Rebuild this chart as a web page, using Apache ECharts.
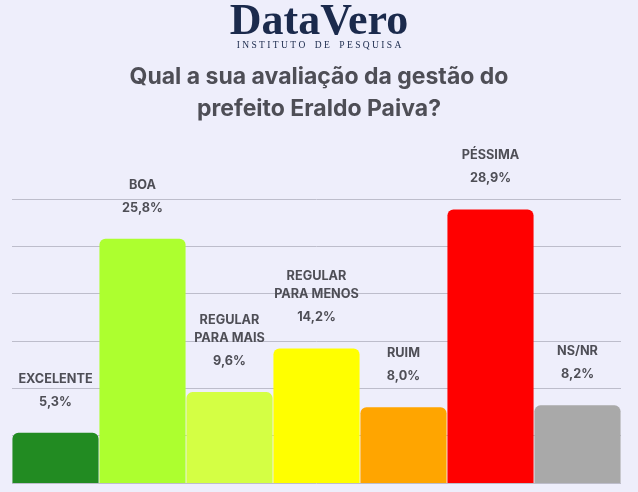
<!DOCTYPE html>
<html><head><meta charset="utf-8">
<script src="https://cdn.jsdelivr.net/npm/echarts@6/dist/echarts.min.js"></script>
<style>html,body{margin:0;padding:0;background:#EEEEFB;}#c{width:638px;height:492px;}</style>
</head><body><div id="c"></div>
<script>
const categories = ['EXCELENTE', 'BOA', 'REGULAR\nPARA MAIS', 'REGULAR\nPARA MENOS', 'RUIM', 'PÉSSIMA', 'NS/NR'];
const values = [5.3, 25.8, 9.6, 14.2, 8.0, 28.9, 8.2];
const barColors = ['#228B22', '#ADFF2F', '#D4FF44', '#FFFF00', '#FFA500', '#FF0000', '#A9A9A9'];
const titleText = 'Qual a sua avaliação da gestão do\nprefeito Eraldo Paiva?';

const chart = echarts.init(document.getElementById('c'), null, {renderer: 'canvas'});
chart.setOption({
  backgroundColor: '#EEEEFB',
  animation: false,
  title: [
    {text: 'DataVero', left: 'center', top: -4,
     textStyle: {fontFamily: 'Liberation Serif', fontWeight: 'bold', fontSize: 44, color: '#1B2A4C'}},
    {text: 'I N S T I T U T O    D E    P E S Q U I S A', left: 'center', top: 35,
     textStyle: {fontFamily: 'Liberation Serif', fontWeight: 'normal', fontSize: 9.5, color: '#1B2A4C'}},
    {text: titleText, left: 'center', top: 56,
     textStyle: {fontFamily: 'Inter', fontWeight: 'bold', fontSize: 23, lineHeight: 32, color: '#4E4E56'}}
  ],
  grid: {left: 12, right: 17, top: 199, bottom: 9},
  xAxis: {type: 'category', data: categories, axisLine: {show: false}, axisTick: {show: false}, axisLabel: {show: false}},
  yAxis: {type: 'value', min: 0, max: 30, interval: 5, axisLabel: {show: false},
          splitLine: {lineStyle: {color: '#BDBDCB', width: 1}}},
  series: [{
    type: 'bar',
    data: values.map((v, i) => ({value: v, itemStyle: {color: barColors[i]}})),
    barCategoryGap: '1%',
    itemStyle: {borderRadius: [6, 6, 0, 0]},
    label: {
      show: true, position: 'top', distance: 17,
      formatter: p => {
        const lines = categories[p.dataIndex].split('\n').map(s => '{n|' + s + '}');
        return lines.join('\n') + '\n{v|' + p.value.toFixed(1).replace('.', ',') + '%}';
      },
      rich: {
        n: {fontFamily: 'Inter', fontWeight: 'bold', fontSize: 12.7, lineHeight: 18, color: '#4E4E56'},
        v: {fontFamily: 'Inter', fontWeight: 'bold', fontSize: 12.7, lineHeight: 28, color: '#4E4E56'}
      }
    }
  }]
});
</script></body></html>
